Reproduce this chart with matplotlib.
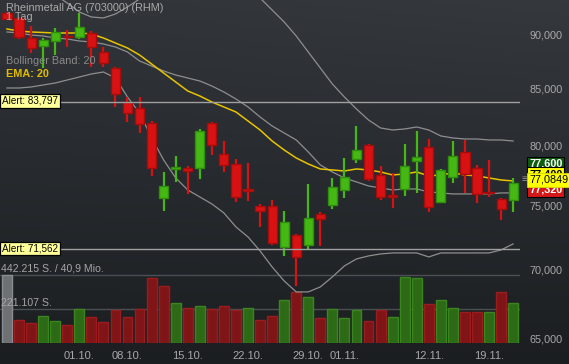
import numpy as np
import pandas as pd
import matplotlib
matplotlib.use('Agg')
import matplotlib.pyplot as plt
import matplotlib.transforms as mtransforms
from matplotlib.ticker import FixedLocator, FuncFormatter, NullLocator

plt.rcParams['font.family'] = ['Liberation Sans', 'DejaVu Sans']

# trading days shown (no quote on 03.10.)
dates = [d for d in pd.bdate_range('2018-09-21', '2018-11-21') if d.strftime('%d.%m.') != '03.10.']
day_labels = [d.strftime('%d.%m.') for d in dates]

opens = [92146, 91654, 89713, 88948, 89425, 89905, 89809, 90194, 88377, 86876,
         83771, 83236, 81911, 75592, 77975, 78059, 78059, 81911, 79237, 78394,
         76324, 74948, 74948, 71731, 72658, 71885, 74309, 75028, 76242, 78814,
         80004, 77477, 75836, 76324, 78645, 79833, 75269, 77311, 79407, 78059,
         76080, 75511, 75430]
highs = [92245, 91753, 90873, 89713, 90678, 90483, 92146, 90387, 88852, 86969,
         84221, 84221, 82086, 77725, 79068, 78227, 81386, 81998, 80346, 78814,
         78478, 75109, 75430, 74548, 72736, 76734, 74468, 77228, 78898, 81648,
         80090, 78227, 77642, 80090, 81211, 80519, 77975, 80346, 80432, 78310,
         78729, 75592, 77228]
lows = [91457, 89616, 88283, 86876, 88094, 88852, 89616, 86969, 86969, 83325,
        81998, 81038, 77394, 74548, 76898, 75917, 77145, 79153, 77725, 75269,
        75350, 73282, 71885, 71043, 68799, 71577, 71808, 74707, 75592, 78478,
        76980, 75430, 74787, 75755, 75999, 74468, 75189, 76816, 75999, 75189,
        75674, 73832, 74468]
closes = [91556, 89809, 88757, 89520, 90290, 89809, 90775, 88852, 87343, 84492,
          82792, 81823, 78059, 76570, 78143, 77808, 81211, 80004, 78310, 75674,
          76161, 74548, 72038, 73675, 70967, 73991, 73912, 76488, 77311, 79576,
          77145, 75633, 75674, 78227, 78983, 74868, 77891, 79068, 77559, 75917,
          75999, 74707, 76816]
volumes = [442215, 149600, 128100, 173600, 143100, 119000, 219200, 167100, 138500, 214600,
           169100, 221100, 422700, 370700, 258200, 229600, 238700, 221100, 240600, 216600,
           225700, 147600, 177500, 279600, 329700, 297200, 160600, 221100, 164500, 216600,
           141100, 214600, 167100, 427200, 420700, 255600, 279600, 225700, 203500, 203500,
           199600, 333600, 258200]

ema20 = [90580, 90387, 90290, 90242, 90194, 90194, 90194, 90097, 89713, 89233,
         88757, 88094, 87250, 86412, 85584, 84764, 84312, 83771, 83325, 82880,
         82086, 81298, 80346, 79576, 78898, 78394, 77975, 77891, 77808, 77975,
         77891, 77725, 77477, 77559, 77725, 77394, 77477, 77642, 77477, 77394,
         77228, 77062, 76980]
bb_mid = [90290, 90194, 90000, 89905, 89713, 89616, 89425, 89329, 89138, 88852,
          88377, 87530, 87063, 86597, 86228, 85951, 85675, 85219, 84673, 84040,
          83325, 82438, 81648, 81038, 80432, 79407, 78310, 77725, 77228, 76898,
          76570, 76406, 76242, 76324, 76324, 76080, 75999, 75917, 75917, 75917,
          75917, 75999, 75999]
bb_up = [98050, 97000, 95970, 94950, 93940, 93138, 92245, 91753, 91654, 92048,
         92740, 93537, 94442, 95255, 95970, 96486, 96486, 96280, 95970, 95459,
         94640, 93638, 92442, 91262, 89905, 88377, 86876, 85400, 84221, 83146,
         82173, 81473, 81298, 81386, 81560, 81298, 80779, 80606, 80519, 80519,
         80432, 80432, 80346]
bb_low = [85036, 85036, 85127, 85310, 85492, 85766, 86043, 86320, 86505, 85950,
          84221, 82792, 80606, 78729, 77228, 76242, 75674, 75109, 74388, 73282,
          72502, 71424, 70213, 69167, 68358, 68358, 68725, 69465, 70288, 70814,
          71043, 71195, 71271, 71271, 71271, 70967, 71271, 71271, 71271, 71271,
          71271, 71500, 71962]

tick_days = ['01.10.', '08.10.', '15.10.', '22.10.', '29.10.', '01.11.', '12.11.', '19.11.']
price_ticks = [65000, 70000, 75000, 80000, 85000, 90000]
alerts = [83797, 71562]
vol_levels = [442215, 221107]
vol_texts = ['442.215 S. / 40,9 Mio.', '221.107 S.']
last_labels = ['77,600', '77,400', '77,320', '77,0849']

W, H = 569, 364
fig = plt.figure(figsize=(W / 100, H / 100), dpi=100)

# background gradient
bg = fig.add_axes([0, 0, 1, 1], zorder=-10)
yy, xx = np.mgrid[0:1:200j, 0:1:200j]
top = np.array([52, 56, 61]) / 255
bot = np.array([29, 32, 35]) / 255
grad = top[None, None, :] * (1 - yy[..., None]) + bot[None, None, :] * yy[..., None]
grad = grad * (0.94 + 0.08 * xx[..., None] * (1 - yy[..., None]))
bg.imshow(np.clip(grad, 0, 1), aspect='auto', extent=(0, 1, 0, 1))
bg.axis('off')

ax_vol = fig.add_axes([0, 21 / H, 520 / W, 343 / H])
ax = ax_vol.twinx()
for a in (ax_vol, ax):
    a.patch.set_visible(False)
    for s in a.spines.values():
        s.set_visible(False)

x = np.arange(len(dates))
o = np.array(opens); c = np.array(closes)
hi = np.array(highs); lo = np.array(lows)

# volume
vcol = ['#6e7173']
vedge = ['#8a8d8f']
for i in range(1, len(closes)):
    if closes[i] >= closes[i - 1]:
        vcol.append('#2d6a15'); vedge.append('#3b8420')
    else:
        vcol.append('#7f1517'); vedge.append('#9a1c1e')
ax_vol.bar(x, volumes, width=0.82, color=vcol, edgecolor=vedge, linewidth=1, zorder=2)
ax_vol.set_ylim(0, vol_levels[0] * 343 / 68)
ax_vol.yaxis.set_major_locator(NullLocator())
blend_v = mtransforms.blended_transform_factory(ax_vol.transAxes, ax_vol.transData)
for lev, txt in zip(vol_levels, vol_texts):
    ax_vol.axhline(lev, color='#4a4f54', lw=1, zorder=1)
    ax_vol.text(0.002, lev * 1.02, txt, transform=blend_v, va='bottom', ha='left',
                fontsize=7.6, color='#a5a5a5', zorder=5)

ax_vol.set_xlim(-0.58, 42.57)
ax_vol.set_xticks([day_labels.index(d) for d in tick_days], tick_days)
ax_vol.tick_params(axis='x', length=0, pad=5.5, labelsize=8, labelcolor='#a8a8a8')

# price
ax.set_yscale('log')
ax.set_ylim(64720, 93436)
ax.yaxis.set_major_locator(FixedLocator(price_ticks))
ax.yaxis.set_minor_locator(NullLocator())
ax.yaxis.set_major_formatter(FuncFormatter(lambda v, p: f'{v:,.0f}'))
ax.tick_params(axis='y', length=0, pad=7, labelsize=7.8, labelcolor='#a8a8a8')

ax.plot(x, bb_up, color='#8e8e8e', lw=0.9, zorder=3)
ax.plot(x, bb_mid, color='#8e8e8e', lw=0.9, zorder=3)
ax.plot(x, bb_low, color='#8e8e8e', lw=0.9, zorder=3)
ax.plot(x, ema20, color='#e8c400', lw=1.1, zorder=4)

up = c >= o
body_col = np.where(up, '#45b814', '#d81212')
edge_col = np.where(up, '#2f8e0c', '#a50c0c')
ax.vlines(x, lo, hi, colors=body_col, lw=1.6, zorder=5)
ax.bar(x, np.abs(c - o), bottom=np.minimum(o, c), width=0.76, color=body_col,
       edgecolor=edge_col, linewidth=1, zorder=6)

blend_p = mtransforms.blended_transform_factory(ax.transAxes, ax.transData)
for a_val in alerts:
    ax.axhline(a_val, xmin=0.118, xmax=1, color='#a0a0a0', lw=1, zorder=7)
    ax.text(0.004, a_val * 1.0008, f'Alert: {a_val:,}', transform=blend_p, va='center', ha='left',
            fontsize=7.1, color='black', zorder=8,
            bbox=dict(boxstyle='square,pad=0.18', fc='#ffff99', ec='black', lw=0.9))


def px(xp, yp):
    return xp / W, 1 - yp / H


fig.text(*px(6, 8), 'Rheinmetall AG (703000) (RHM)', fontsize=7.8, color='#a9a9a9', va='center')
fig.text(*px(6, 17), '1 Tag', fontsize=7.8, color='#a9a9a9', va='center')
fig.text(*px(6, 61), 'Bollinger Band: 20', fontsize=7.8, color='#8a8a8a', va='center')
fig.text(*px(6, 74), 'EMA: 20', fontsize=7.8, color='#e0bc00', va='center', fontweight='bold')

fig.text(*px(529, 163.5), last_labels[0], fontsize=7.8, color='white', va='center', fontweight='bold',
         bbox=dict(boxstyle='square,pad=0.15', fc='#0e5c0e', ec='black', lw=0.8), zorder=10)
fig.text(*px(529, 174), last_labels[1], fontsize=7.8, color='black', va='center', fontweight='bold',
         bbox=dict(boxstyle='square,pad=0.15', fc='#ffff00', ec='black', lw=0.8), zorder=10)
fig.text(*px(529, 190), last_labels[2], fontsize=7.8, color='white', va='center', fontweight='bold',
         bbox=dict(boxstyle='square,pad=0.15', fc='#d41717', ec='black', lw=0.8), zorder=11)
fig.text(*px(529, 180), last_labels[3], fontsize=7.8, color='black', va='center',
         bbox=dict(boxstyle='square,pad=0.2', fc='#ffff00', ec='#d8d800', lw=0.6), zorder=12)
fig.text(*px(521, 179), '≡', fontsize=7, color='#9a9a9a', va='center', zorder=12)

fig.savefig('out.png', dpi=100)
